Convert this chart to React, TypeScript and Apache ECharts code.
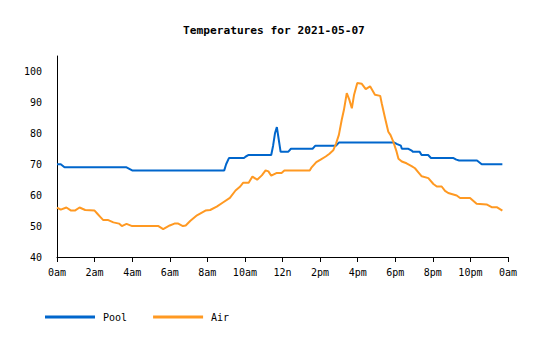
import React, { useEffect, useRef } from "react";
import * as echarts from "echarts";

const chartTitle = "Temperatures for 2021-05-07";
const seriesNames = ["Pool", "Air"];
const seriesColors = ["#0066cc", "#ff9922"];
const xTickLabels = ["0am", "2am", "4am", "6am", "8am", "10am", "12n", "2pm", "4pm", "6pm", "8pm", "10pm", "0am"];
const yTicks = [40, 50, 60, 70, 80, 90, 100];

// [hour of day, temperature]
const poolTemps: [number, number][] = [
  [0, 70], [0.2, 70], [0.3, 69.5], [0.4, 69], [3.7, 69], [3.85, 68.5], [4.0, 68], [8.9, 68],
  [9.0, 70], [9.15, 72], [9.95, 72], [10.05, 72.5], [10.2, 73], [11.4, 73], [11.5, 76],
  [11.6, 80], [11.7, 82], [11.8, 78], [11.9, 74], [12.3, 74], [12.45, 75], [13.6, 75],
  [13.75, 76], [14.85, 76], [15.0, 77], [17.95, 77], [18.1, 76.5], [18.3, 76], [18.35, 75],
  [18.7, 75], [18.85, 74.5], [18.95, 74], [19.3, 74], [19.4, 73], [19.75, 73], [19.9, 72],
  [21.1, 72], [21.25, 71.5], [21.4, 71.2], [22.35, 71.2], [22.5, 70.5], [22.6, 70], [23.7, 70],
];

const airTemps: [number, number][] = [
  [0, 56], [0.2, 55.3], [0.5, 56], [0.75, 55], [0.95, 55], [1.2, 56], [1.5, 55.2], [2.0, 55],
  [2.15, 54], [2.3, 53], [2.45, 52], [2.7, 52], [3.0, 51.2], [3.3, 50.8], [3.45, 50], [3.7, 50.7],
  [4.0, 50], [5.4, 50], [5.65, 49], [6.0, 50.2], [6.25, 50.8], [6.45, 50.8], [6.7, 50],
  [6.85, 50.2], [7.1, 51.7], [7.45, 53.5], [7.9, 55], [8.15, 55.2], [8.5, 56.3], [8.85, 57.7],
  [9.2, 59.1], [9.5, 61.5], [9.75, 62.8], [9.9, 64], [10.2, 64], [10.4, 66], [10.65, 65],
  [10.9, 66.4], [11.1, 68], [11.25, 67.7], [11.4, 66.3], [11.7, 67.2], [11.95, 67.2], [12.1, 68],
  [13.45, 68], [13.55, 69], [13.8, 70.7], [14.05, 71.6], [14.3, 72.5], [14.5, 73.4], [14.7, 74.5],
  [14.85, 76.7], [15.0, 79.5], [15.15, 84.3], [15.27, 87.6], [15.42, 93], [15.56, 90.8],
  [15.69, 88.1], [15.81, 92.5], [15.98, 96.3], [16.22, 96], [16.43, 94.3], [16.66, 95.2],
  [16.92, 92.5], [17.2, 92.1], [17.28, 89.7], [17.46, 84.9], [17.63, 80.5], [17.75, 79.4],
  [17.9, 77.2], [18.05, 74.5], [18.17, 71.8], [18.35, 70.9], [18.6, 70.3], [18.87, 69.4],
  [19.05, 68.7], [19.23, 67.4], [19.41, 66.1], [19.76, 65.5], [20.03, 63.6], [20.21, 62.8],
  [20.47, 62.8], [20.65, 61.4], [20.82, 60.7], [21.27, 59.9], [21.45, 59.1], [21.98, 59.1],
  [22.33, 57.2], [22.86, 57], [23.13, 56.1], [23.4, 56.1], [23.7, 55],
];

const FONT = "DejaVu Sans Mono";

export default function App() {
  const ref = useRef<HTMLDivElement>(null);
  useEffect(() => {
    if (!ref.current) return;
    const chart = echarts.init(ref.current, null, { renderer: "svg" });
    chart.setOption({
      animation: false,
      backgroundColor: "#ffffff",
      title: {
        text: chartTitle,
        left: 178,
        top: 20,
        textStyle: { fontFamily: FONT, fontSize: 11.2, fontWeight: "bold", color: "#000" },
      },
      legend: {
        left: 40,
        top: 307,
        icon: "rect",
        itemWidth: 50,
        itemHeight: 3,
        itemGap: 26,
        data: seriesNames,
        textStyle: { fontFamily: FONT, fontSize: 10, color: "#000", padding: [6, 0, 0, 3] },
      },
      grid: { left: 57, right: 32, top: 56, bottom: 83 },
      xAxis: {
        type: "value",
        min: 0,
        max: 24,
        interval: 2,
        axisLine: { show: true, lineStyle: { color: "#000", width: 1 } },
        axisTick: { show: true, length: 5, lineStyle: { color: "#000" } },
        splitLine: { show: false },
        axisLabel: {
          fontFamily: FONT,
          fontSize: 10,
          color: "#000",
          margin: 10,
          formatter: (v: number) => xTickLabels[Math.round(v / 2)] ?? "",
        },
      },
      yAxis: {
        type: "value",
        min: 40,
        max: 105,
        interval: 10,
        axisLine: { show: true, lineStyle: { color: "#000", width: 1 } },
        axisTick: { show: false },
        splitLine: { show: false },
        axisLabel: {
          fontFamily: FONT,
          fontSize: 10,
          color: "#000",
          margin: 15,
          showMaxLabel: false,
          formatter: (v: number) => (yTicks.includes(v) ? String(v) : ""),
        },
      },
      series: [
        {
          name: seriesNames[0],
          type: "line",
          data: poolTemps,
          showSymbol: false,
          color: seriesColors[0],
          lineStyle: { width: 2, color: seriesColors[0] },
        },
        {
          name: seriesNames[1],
          type: "line",
          data: airTemps,
          showSymbol: false,
          color: seriesColors[1],
          lineStyle: { width: 2, color: seriesColors[1] },
        },
      ],
    });
    return () => chart.dispose();
  }, []);
  return <div ref={ref} style={{ width: 540, height: 340, position: "fixed", left: 0, top: 0 }} />;
}
